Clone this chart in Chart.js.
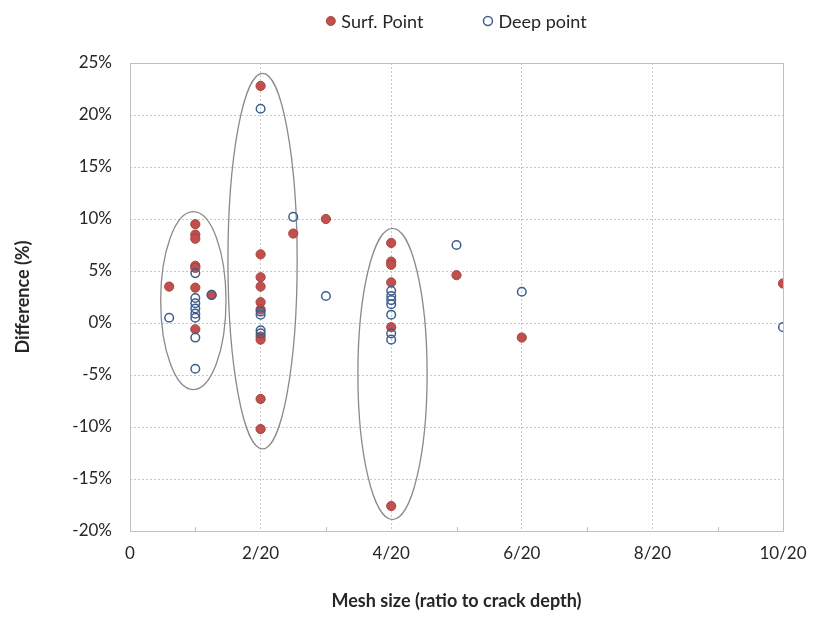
<!DOCTYPE html>
<html>
<head>
<meta charset="utf-8">
<script src="https://cdn.jsdelivr.net/npm/chart.js@4.4.1/dist/chart.umd.min.js"></script>
<style>
  html, body { margin: 0; padding: 0; background: #ffffff; }
  canvas { display: block; }
</style>
</head>
<body>
<canvas id="chart" width="825" height="621"></canvas>
<script>
// Mesh size is given in units of 1/20 of the crack depth; differences in percent.
const seriesNames = ['Surf. Point', 'Deep point'];

const surfX = [0.6,
  1, 1, 1, 1, 1, 1, 1,
  1.25,
  2, 2, 2, 2, 2, 2, 2, 2, 2, 2,
  2.5, 3,
  4, 4, 4, 4, 4, 4,
  5, 6, 10];
const surfY = [3.5,
  9.5, 8.5, 8.1, 5.5, 5.3, 3.4, -0.6,
  2.7,
  22.8, 6.6, 4.4, 3.5, 2.0, 1.3, -1.3, -1.6, -7.3, -10.2,
  8.6, 10.0,
  7.7, 5.9, 5.6, 3.9, -0.4, -17.6,
  4.6, -1.4, 3.8];

const deepX = [0.6,
  1, 1, 1, 1, 1, 1, 1, 1,
  1.25,
  2, 2, 2, 2, 2,
  2.5, 3,
  4, 4, 4, 4, 4, 4, 4,
  5, 6, 10];
const deepY = [0.5,
  4.8, 2.4, 1.9, 1.4, 0.9, 0.5, -1.4, -4.4,
  2.7,
  20.6, 1.1, 0.8, -0.7, -1.0,
  10.2, 2.6,
  3.1, 2.6, 2.2, 1.8, 0.8, -1.0, -1.6,
  7.5, 3.0, -0.4];

const xTickValues = [0, 2, 4, 6, 8, 10];
const xTickLabels = ['0', '2/20', '4/20', '6/20', '8/20', '10/20'];
const yMin = -20, yMax = 25, yStep = 5;

// Groups circled on the plot (centre and half-axes in data units)
const groupCenterX = [0.97, 2.03, 4.02];
const groupCenterY = [2.15, 5.95, -4.9];
const groupRadiusX = [0.50, 0.53, 0.53];
const groupRadiusY = [8.55, 18.05, 14.0];

const surfColor = '#C0504D', surfEdge = '#A8423F';
const deepEdge = '#3A5F8F';
const gridColor = '#C8C8C8';
const textColor = '#262626';
const FONT = 'Lato, "Open Sans", sans-serif';

const xLabelFor = {};
xTickValues.forEach((v, i) => { xLabelFor[v] = xTickLabels[i]; });

const toPoints = (xs, ys) => xs.map((x, i) => ({ x, y: ys[i] }));

// Plot frame, minor ticks, group ellipses and the legend row
const decorations = {
  id: 'decorations',
  beforeDatasetsDraw(chart) {
    const { ctx, chartArea: a, scales: { x, y } } = chart;
    ctx.save();
    ctx.strokeStyle = '#BFBFBF';
    ctx.lineWidth = 1;
    ctx.strokeRect(Math.round(a.left) + 0.5, Math.round(a.top) + 0.5,
      Math.round(a.right - a.left), Math.round(a.bottom - a.top));
    ctx.beginPath();
    for (let v = x.min + 1; v < x.max; v += 2) {
      const px = Math.round(x.getPixelForValue(v)) + 0.5;
      ctx.moveTo(px, Math.round(a.bottom));
      ctx.lineTo(px, Math.round(a.bottom) - 4);
    }
    ctx.stroke();

    ctx.strokeStyle = '#8A8A8A';
    ctx.lineWidth = 1.3;
    groupCenterX.forEach((cx, i) => {
      const px = x.getPixelForValue(cx);
      const py = y.getPixelForValue(groupCenterY[i]);
      const rx = Math.abs(x.getPixelForValue(cx + groupRadiusX[i]) - px);
      const ry = Math.abs(y.getPixelForValue(groupCenterY[i] + groupRadiusY[i]) - py);
      ctx.beginPath();
      ctx.ellipse(px, py, rx, ry, 0, 0, Math.PI * 2);
      ctx.stroke();
    });
    ctx.restore();
  },
  afterDraw(chart) {
    const { ctx, chartArea: a } = chart;
    const r = 4.5, markGap = 6, itemGap = 60, rowY = 21;
    ctx.save();
    ctx.font = '18px ' + FONT;
    ctx.textBaseline = 'middle';
    ctx.textAlign = 'left';
    const sets = chart.data.datasets;
    const widths = sets.map(d => 2 * r + markGap + ctx.measureText(d.label).width);
    const total = widths.reduce((s, w) => s + w, 0) + itemGap * (sets.length - 1);
    let cx = (a.left + a.right) / 2 - total / 2;
    sets.forEach((d, i) => {
      ctx.beginPath();
      ctx.arc(cx + r, rowY, r, 0, Math.PI * 2);
      if (d.backgroundColor !== 'rgba(0,0,0,0)') {
        ctx.fillStyle = d.backgroundColor;
        ctx.fill();
      }
      ctx.lineWidth = d.borderWidth;
      ctx.strokeStyle = d.borderColor;
      ctx.stroke();
      ctx.fillStyle = textColor;
      ctx.fillText(d.label, cx + 2 * r + markGap, rowY + 1);
      cx += widths[i] + itemGap;
    });
    ctx.restore();
  }
};

new Chart(document.getElementById('chart'), {
  type: 'scatter',
  data: {
    datasets: [
      {
        label: seriesNames[0],
        data: toPoints(surfX, surfY),
        backgroundColor: surfColor,
        borderColor: surfEdge,
        borderWidth: 1,
        pointRadius: 4.6,
        order: 1
      },
      {
        label: seriesNames[1],
        data: toPoints(deepX, deepY),
        backgroundColor: 'rgba(0,0,0,0)',
        borderColor: deepEdge,
        borderWidth: 1.5,
        pointRadius: 4.3,
        order: 0
      }
    ]
  },
  options: {
    responsive: false,
    devicePixelRatio: 1,
    animation: false,
    layout: { padding: { top: 63, left: 8, right: 42, bottom: 5 } },
    plugins: {
      legend: { display: false },
      tooltip: { enabled: false }
    },
    scales: {
      x: {
        type: 'linear',
        min: 0,
        max: 10,
        afterFit: s => { s.height = 85; },
        ticks: {
          stepSize: 1,
          autoSkip: false,
          maxRotation: 0,
          padding: 12,
          color: textColor,
          font: { family: FONT, size: 17 },
          callback: v => (v in xLabelFor ? xLabelFor[v] : '')
        },
        grid: {
          drawTicks: false,
          color: c => (c.tick && c.tick.value % 2 === 0 ? gridColor : 'rgba(0,0,0,0)'),
          lineWidth: 1
        },
        border: { display: false, dash: [2, 2] },
        title: {
          display: true,
          text: 'Mesh size (ratio to crack depth)',
          color: textColor,
          font: { family: FONT, size: 18, weight: 'bold' },
          padding: { top: 0, bottom: 4 }
        }
      },
      y: {
        min: yMin,
        max: yMax,
        afterFit: s => { s.width = 122; },
        ticks: {
          stepSize: yStep,
          padding: 18,
          color: textColor,
          font: { family: FONT, size: 17 },
          callback: v => v + '%'
        },
        grid: {
          drawTicks: false,
          color: gridColor,
          lineWidth: 1
        },
        border: { display: false, dash: [2, 2] },
        title: {
          display: true,
          text: 'Difference (%)',
          color: textColor,
          font: { family: FONT, size: 18, weight: 'bold' },
          padding: { top: 4, bottom: 0 }
        }
      }
    }
  },
  plugins: [decorations]
});
</script>
</body>
</html>
